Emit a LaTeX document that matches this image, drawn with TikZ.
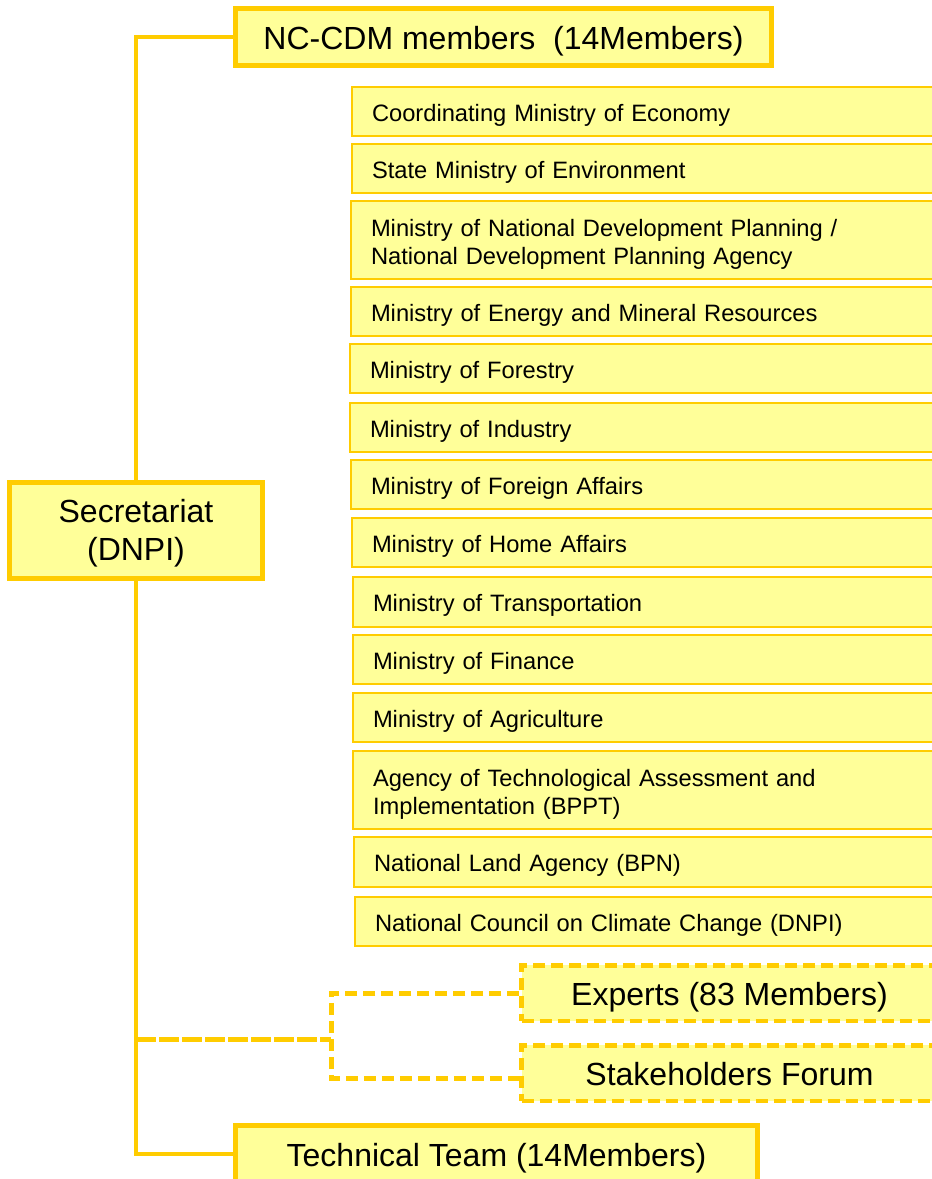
\documentclass[tikz,border=0pt]{standalone}
\usepackage{fontspec}
\setmainfont{Liberation Sans}
\definecolor{gold}{HTML}{FFCC00}
\definecolor{paleyellow}{HTML}{FFFF99}

\begin{document}
\begin{tikzpicture}[x=1pt, y=-1pt,
                        main box/.style={draw=gold, line width=5pt, fill=paleyellow, inner sep=0pt, align=center, text height=24pt, text depth=0pt, font=\fontsize{32}{38}\selectfont},
                        member box/.style={draw=gold, line width=1.5pt, fill=paleyellow, anchor=north west, outer sep=0pt, inner xsep=20pt, inner ysep=0pt, text width=560pt, align=left, text height=19pt, text depth=0pt, font=\fontsize{23.7}{28}\selectfont},
                        double member/.style={member box, text height=20pt, text depth=28pt},
                        open box/.style={main box, line width=4.5pt, dash pattern=on 12pt off 6pt},
                        trunk/.style={draw=gold, line width=4.7pt},
                        open link/.style={draw=gold, line width=5pt, dash pattern=on 12pt off 6pt},
                        branch/.style={draw=gold, line width=5pt, dash pattern=on 20pt off 3pt}]

      \useasboundingbox (0,0) rectangle (932,1179);
      \clip (0,0) rectangle (932,1179);

      \node[main box, minimum width=536pt, minimum height=57pt] (nc) at (503.5,37) {NC-CDM members\ \ (14Members)};
      \node[main box, minimum width=253pt, minimum height=96pt, text height=59pt] (sec) at (136,530.5) {Secretariat\\(DNPI)};
      \node[main box, minimum width=522pt, minimum height=58pt] (tech) at (496.5,1154) {Technical Team (14Members)};

      \node[member box, minimum height=49pt] (m1) at (352,87) {Coordinating Ministry of Economy};
      \node[member box, minimum height=49pt] (m2) at (352,144) {State Ministry of Environment};
      \node[double member, minimum height=78pt] (m3) at (351,201) {Ministry of National Development Planning /\\National Development Planning Agency};
      \node[member box, minimum height=49pt] (m4) at (351,287) {Ministry of Energy and Mineral Resources};
      \node[member box, minimum height=49pt] (m5) at (350,344) {Ministry of Forestry};
      \node[member box, minimum height=49pt] (m6) at (350,403) {Ministry of Industry};
      \node[member box, minimum height=49pt] (m7) at (351,460) {Ministry of Foreign Affairs};
      \node[member box, minimum height=49pt] (m8) at (352,518) {Ministry of Home Affairs};
      \node[member box, minimum height=50pt] (m9) at (353,577) {Ministry of Transportation};
      \node[member box, minimum height=49pt] (m10) at (353,635) {Ministry of Finance};
      \node[member box, minimum height=49pt] (m11) at (353,693) {Ministry of Agriculture};
      \node[double member, minimum height=78pt] (m12) at (353,751) {Agency of Technological Assessment and\\Implementation (BPPT)};
      \node[member box, minimum height=50pt] (m13) at (354,837) {National Land Agency (BPN)};
      \node[member box, minimum height=49pt] (m14) at (355,897) {National Council on Climate Change (DNPI)};

      \node[open box, minimum width=416pt, minimum height=55.5pt] (exp) at (729.5,993) {Experts (83 Members)};
      \node[open box, minimum width=416pt, minimum height=55.5pt] (forum) at (729.5,1073) {Stakeholders Forum};
      \coordinate (fork) at (331,1039);

      \draw[trunk] (nc.west) -| (sec.north);
      \draw[trunk] (sec.south) |- (tech.west);
      \draw[branch] (sec.south |- fork) -- (fork);
      \draw[open link] (exp.west) -| (fork) |- ([yshift=-5pt]forum.west);

    \end{tikzpicture}
\end{document}
